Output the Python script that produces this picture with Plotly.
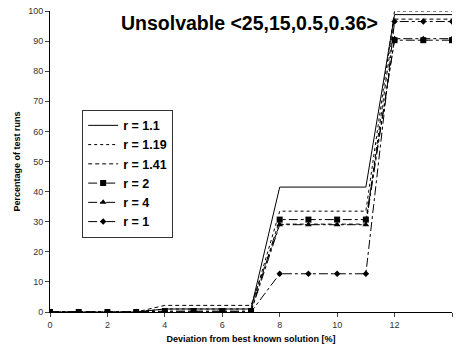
import plotly.graph_objects as go

x = list(range(15))
r_1_1 = [0, 0, 0, 0, 1, 1, 1, 1, 41.5, 41.5, 41.5, 41.5, 98.8, 98.8, 98.8]
r_1_19 = [0, 0, 0, 0, 1, 1, 1, 1, 33.5, 33.5, 33.5, 33.5, 100, 100, 100]
r_1_41 = [0, 0, 0, 0, 2.2, 2.2, 2.2, 2.2, 29.2, 29.2, 29.2, 29.2, 97.3, 97.3, 97.3]
r_2 = [0, 0, 0, 0, 0.3, 0.3, 0.3, 0.3, 30.7, 30.7, 30.7, 30.7, 90.3, 90.3, 90.3]
r_4 = [0, 0, 0, 0, 0, 0, 0, 0, 29, 29, 29, 29, 90.8, 90.8, 90.8]
r_1 = [0, 0, 0, 0, 0, 0, 0, 0, 12.7, 12.7, 12.7, 12.7, 96.5, 96.5, 96.5]

series = [
    ("r = 1.1", r_1_1, "solid", None),
    ("r = 1.19", r_1_19, "dot", None),
    ("r = 1.41", r_1_41, "4px,3px", None),
    ("r = 2", r_2, "dashdot", "square"),
    ("r = 4", r_4, "dashdot", "triangle-up"),
    ("r = 1", r_1, "dashdot", "diamond"),
]

fig = go.Figure()
for name, ys, dash, sym in series:
    kw = dict(mode="lines")
    if sym:
        kw = dict(mode="lines+markers",
                  marker=dict(symbol=sym, size=6 if sym != "diamond" else 5, color="black"))
    fig.add_trace(go.Scatter(x=x, y=ys, name="<b>" + name + "</b>",
                             line=dict(color="black", width=1, dash=dash), **kw))

fig.update_layout(
    width=456, height=353,
    margin=dict(l=50, r=4, t=11, b=41),
    paper_bgcolor="white", plot_bgcolor="white",
    font=dict(family="Liberation Sans, Arial", color="black", size=9),
    showlegend=True,
    legend=dict(x=0.08, y=0.672, xanchor="left", yanchor="top",
                bordercolor="#333", borderwidth=1, bgcolor="white",
                font=dict(size=12.5, family="Liberation Sans, Arial"),
                itemwidth=30, tracegroupgap=0),
    annotations=[dict(text="<b>Unsolvable <25,15,0.5,0.36></b>", x=0.4975, y=0.96,
                      xref="paper", yref="paper", xanchor="center", yanchor="middle",
                      showarrow=False, font=dict(size=19.5, color="black"))],
)
fig.update_xaxes(range=[0, 14], tickvals=list(range(0, 15, 2)), ticks="outside",
                 ticklen=4, showline=True, linecolor="black", showgrid=False,
                 zeroline=False, tickfont=dict(size=9, color="#333"), automargin=False,
                 title=dict(text="<b>Deviation from best known solution [%]</b>",
                            font=dict(size=9), standoff=6))
fig.update_yaxes(range=[0, 100], tickvals=list(range(0, 101, 10)), ticks="outside",
                 ticklen=4, showline=True, linecolor="black", showgrid=False,
                 zeroline=False, tickfont=dict(size=9, color="#333"), automargin=False,
                 title=dict(text="<b>Percentage of test runs</b>", font=dict(size=9),
                            standoff=6))

fig.write_html("out.html", config={"displayModeBar": False},
               post_script="document.body.style.margin='0';")
